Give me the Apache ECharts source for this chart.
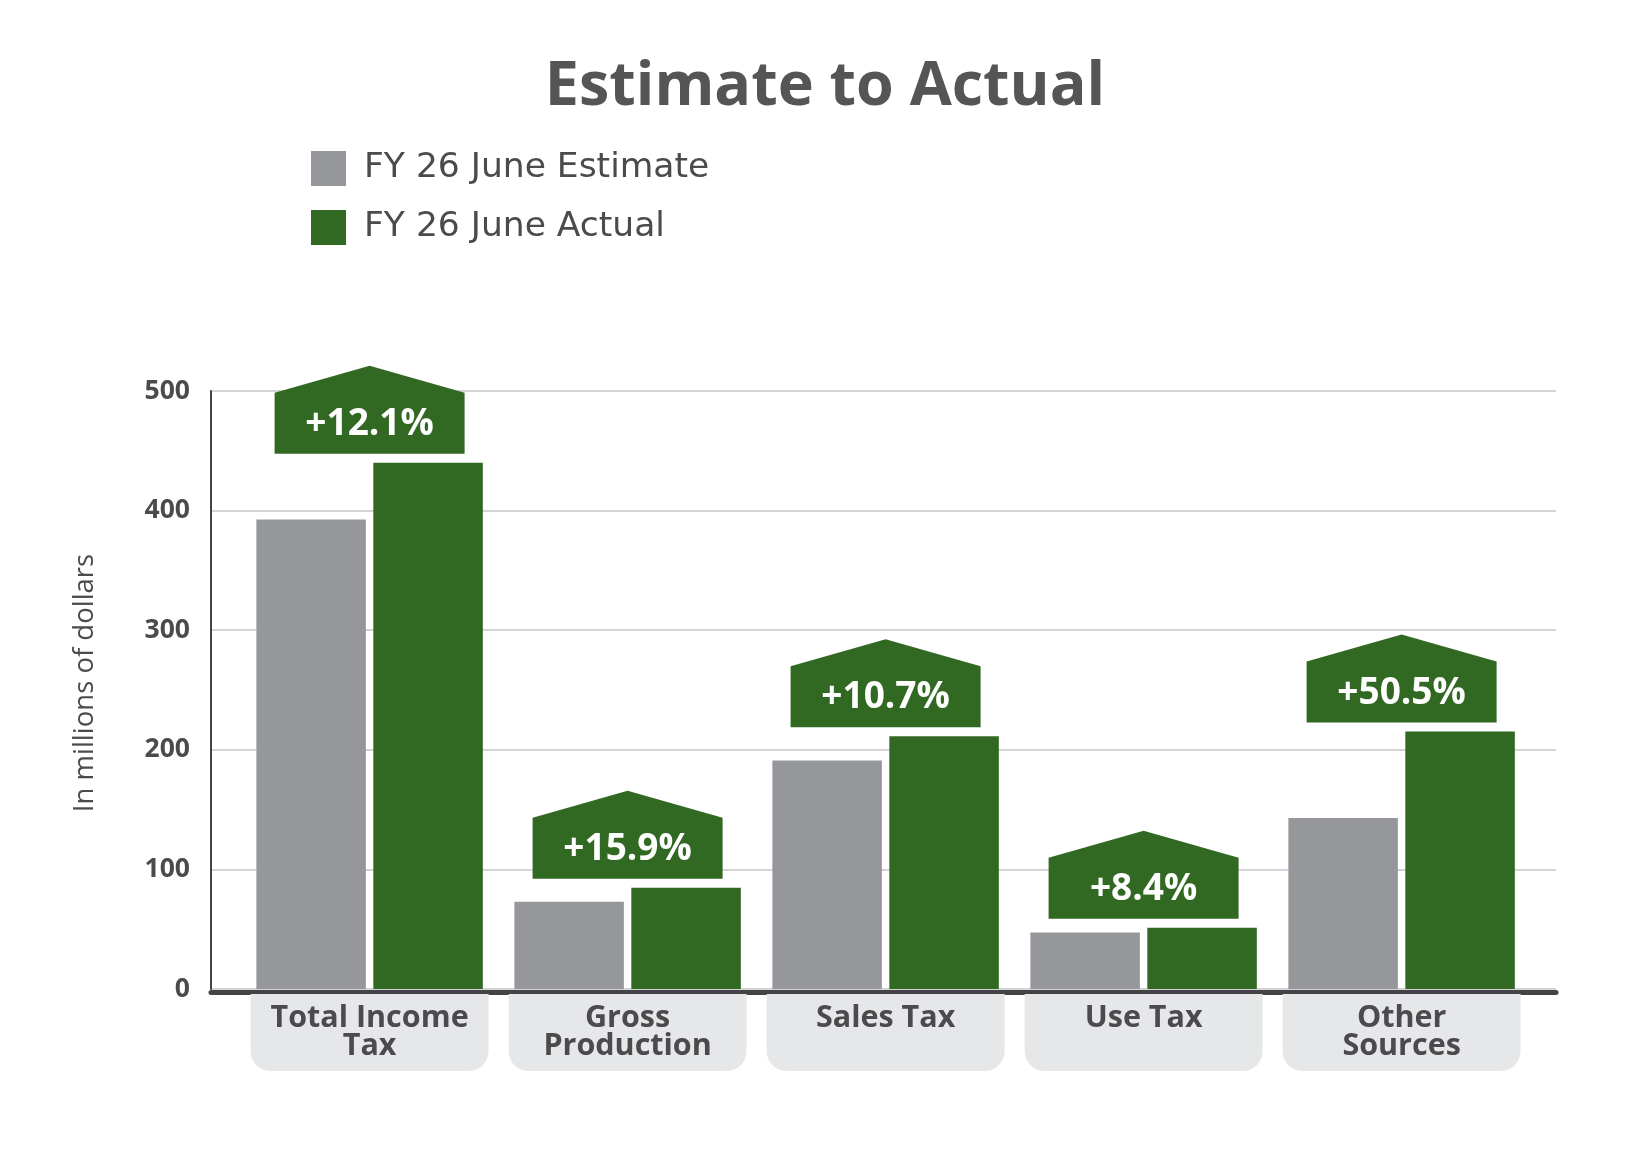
<!DOCTYPE html>
<html>
<head>
<meta charset="utf-8">
<title>Estimate to Actual</title>
<script src="https://cdn.jsdelivr.net/npm/echarts@6/dist/echarts.min.js"></script>
<style>
  html, body { margin: 0; padding: 0; background: #ffffff; }
  #main { width: 1650px; height: 1159px; }
</style>
</head>
<body>
<div id="main"></div>
<script>
// values, in millions of dollars
const categories = ['Total Income\nTax', 'Gross\nProduction', 'Sales Tax', 'Use Tax', 'Other\nSources'];
const estimate = [392.5, 73, 191, 47.3, 143];
const actual = [440, 84.6, 211.4, 51.3, 215.2];
const changeLabels = ['+12.1%', '+15.9%', '+10.7%', '+8.4%', '+50.5%'];
const yTicks = [0, 100, 200, 300, 400, 500];

const FONT = "'Open Sans', 'Noto Sans', sans-serif";
const GRAY = '#96979b';
const GREEN = '#326922';
const TEXT = '#4b4b4d';

const el = document.getElementById('main');
const myChart = echarts.init(el, null, {renderer: 'canvas'});

// house shaped badge sitting above the actual bar
function renderBadge(params, api) {
  const p = api.coord([api.value(0), api.value(1)]);
  const w = 190, h = 61, peak = 27, gap = 9;
  const bottom = p[1] - gap;
  const top = bottom - h;
  const left = p[0] - w / 2, right = p[0] + w / 2;
  return {
    type: 'group',
    children: [{
      type: 'polygon',
      shape: {points: [[left, bottom], [left, top], [p[0], top - peak], [right, top], [right, bottom]]},
      style: {fill: GREEN}
    }, {
      type: 'text',
      x: p[0],
      y: top + h / 2 + 1,
      style: {
        text: changeLabels[params.dataIndex],
        fill: '#ffffff',
        font: 'bold 37px ' + FONT,
        align: 'center',
        verticalAlign: 'middle'
      }
    }]
  };
}

let option = {
  animation: false,
  backgroundColor: '#ffffff',
  title: {
    text: 'Estimate to Actual',
    left: 'center',
    top: 52,
    textStyle: {fontFamily: FONT, fontSize: 61, fontWeight: 'bold', color: '#555557'}
  },
  legend: {
    orient: 'vertical',
    left: 306,
    top: 146,
    itemWidth: 35,
    itemHeight: 35,
    itemGap: 24,
    icon: 'rect',
    data: ['FY 26 June Estimate', 'FY 26 June Actual'],
    textStyle: {fontFamily: "'DejaVu Sans', sans-serif", fontSize: 34.5, color: TEXT, padding: [0, 0, 0, 13]}
  },
  grid: [
    {left: 211, right: 94, top: 391, bottom: 170},
    {left: 240.6, right: 119.4, top: 391, bottom: 170}
  ],
  xAxis: [{
    gridIndex: 0,
    type: 'value',
    min: 0,
    max: 1,
    offset: 3,
    axisLine: {show: true, onZero: false, lineStyle: {color: '#434345', width: 5}},
    axisTick: {show: false},
    axisLabel: {show: false},
    splitLine: {show: false}
  }, {
    gridIndex: 1,
    type: 'category',
    data: categories,
    axisLine: {show: false},
    axisTick: {show: false},
    axisLabel: {
      interval: 0,
      margin: 5,
      fontFamily: FONT,
      fontSize: 30.5,
      fontWeight: 'bold',
      color: TEXT,
      lineHeight: 28,
      width: 238,
      height: 56,
      padding: [10, 0, 11, 0],
      align: 'center',
      backgroundColor: '#e6e7e8',
      borderRadius: [0, 0, 20, 20]
    }
  }],
  yAxis: [{
    gridIndex: 0,
    type: 'value',
    min: yTicks[0],
    max: yTicks[yTicks.length - 1],
    interval: 100,
    name: 'In millions of dollars',
    nameLocation: 'middle',
    nameGap: 112,
    nameTextStyle: {fontFamily: FONT, fontSize: 27.5, color: TEXT, padding: [0, 0, 0, 14]},
    axisLine: {show: true, lineStyle: {color: '#434345', width: 2}},
    axisTick: {show: false},
    axisLabel: {margin: 21, fontFamily: FONT, fontSize: 26.5, fontWeight: 'bold', color: TEXT},
    splitLine: {show: true, lineStyle: {color: '#d4d4d6', width: 2}}
  }, {
    gridIndex: 1,
    type: 'value',
    min: yTicks[0],
    max: yTicks[yTicks.length - 1],
    show: false
  }],
  series: [{
    name: 'FY 26 June Estimate',
    type: 'bar',
    xAxisIndex: 1,
    yAxisIndex: 1,
    data: estimate,
    barWidth: 109.5,
    barGap: '6.8%',
    itemStyle: {color: GRAY}
  }, {
    name: 'FY 26 June Actual',
    type: 'bar',
    xAxisIndex: 1,
    yAxisIndex: 1,
    data: actual,
    barWidth: 109.5,
    barGap: '6.8%',
    itemStyle: {color: GREEN}
  }, {
    type: 'custom',
    xAxisIndex: 1,
    yAxisIndex: 1,
    renderItem: renderBadge,
    data: actual.map((v, i) => [i, v]),
    z: 5
  }]
};
myChart.setOption(option);
</script>
</body>
</html>
